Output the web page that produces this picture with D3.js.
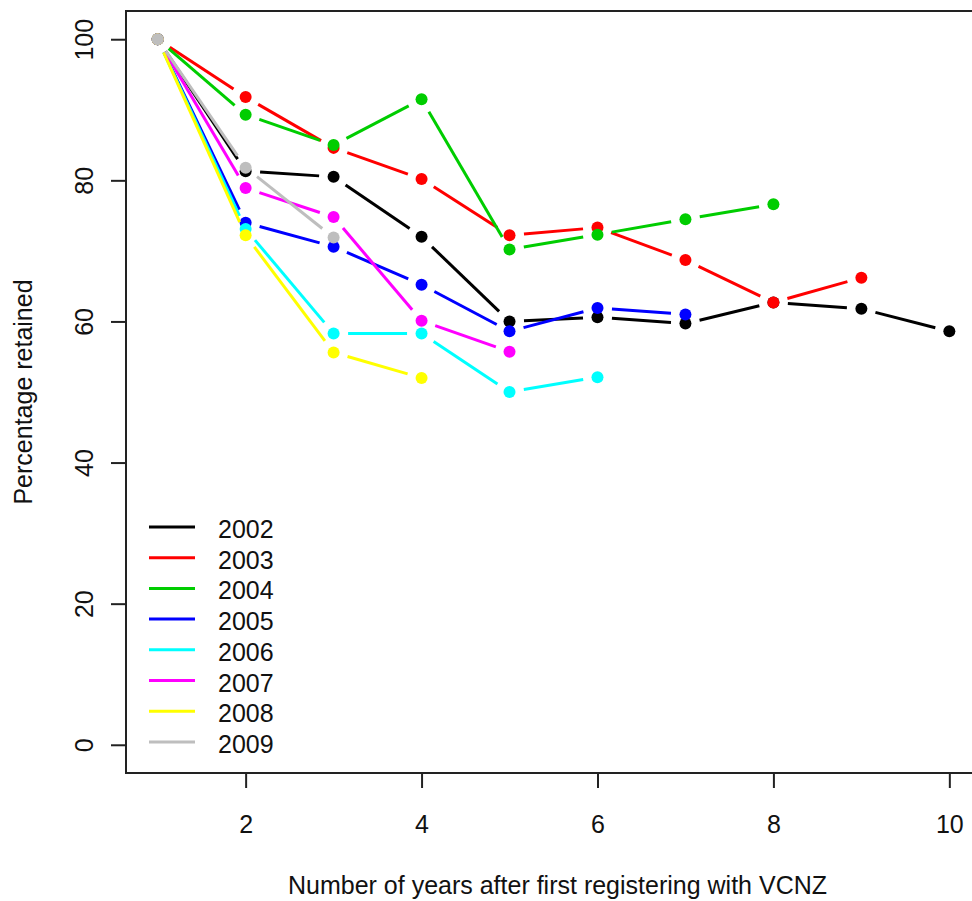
<!DOCTYPE html>
<html>
<head>
<meta charset="utf-8">
<script src="https://cdn.jsdelivr.net/npm/d3@7"></script>
<style>
  body { margin: 0; background: #fff; }
  svg text { font-family: "Liberation Sans", Arial, sans-serif; fill: #111; }
</style>
</head>
<body>
<script>
// data
var years = [1, 2, 3, 4, 5, 6, 7, 8, 9, 10];
var cohorts = ['2002', '2003', '2004', '2005', '2006', '2007', '2008', '2009'];
var colors = ['#000000', '#FF0000', '#00CD00', '#0000FF', '#00FFFF', '#FF00FF', '#FFFF00', '#BEBEBE'];
var v2002 = [100, 81.3, 80.5, 72.0, 60.0, 60.6, 59.7, 62.7, 61.8, 58.6];
var v2003 = [100, 91.8, 84.6, 80.2, 72.2, 73.3, 68.7, 62.7, 66.2];
var v2004 = [100, 89.3, 85.0, 91.5, 70.2, 72.3, 74.5, 76.6];
var v2005 = [100, 74.0, 70.6, 65.2, 58.6, 61.9, 61.0];
var v2006 = [100, 73.1, 58.3, 58.3, 50.0, 52.1];
var v2007 = [100, 78.9, 74.8, 60.1, 55.7];
var v2008 = [100, 72.2, 55.6, 52.0];
var v2009 = [100, 81.8, 71.9];
var xTicks = [2, 4, 6, 8, 10];
var yTicks = [0, 20, 40, 60, 80, 100];
var xTitle = 'Number of years after first registering with VCNZ';
var yTitle = 'Percentage retained';

var allSeries = [v2002, v2003, v2004, v2005, v2006, v2007, v2008, v2009];

var W = 972, H = 901;
var box = {left: 126, top: 11, right: 981, bottom: 773};
var fs = 25;

var svg = d3.select('body').append('svg').attr('width', W).attr('height', H);

var x = d3.scaleLinear().domain([0.64, 10.36]).range([box.left, box.right]);
var y = d3.scaleLinear().domain([-4, 104]).range([box.bottom, box.top]);

// axes
var xAxis = svg.append('g').attr('transform', 'translate(0,' + box.bottom + ')')
  .call(d3.axisBottom(x).tickValues(xTicks).tickSize(15).tickPadding(0).tickFormat(d3.format('d')));
xAxis.select('.domain').remove();
xAxis.selectAll('line').attr('stroke', '#222').attr('stroke-width', 2);
xAxis.selectAll('text').attr('y', 60).attr('dy', null).style('font-size', fs + 'px');

var yAxis = svg.append('g').attr('transform', 'translate(' + box.left + ',0)')
  .call(d3.axisLeft(y).tickValues(yTicks).tickSize(15).tickFormat(d3.format('d')));
yAxis.select('.domain').remove();
yAxis.selectAll('line').attr('stroke', '#222').attr('stroke-width', 2);
yAxis.selectAll('text')
  .attr('x', null).attr('dy', null)
  .attr('text-anchor', 'middle')
  .attr('transform', 'translate(-33,0) rotate(-90)')
  .style('font-size', fs + 'px');

// frame
svg.append('rect')
  .attr('x', box.left).attr('y', box.top)
  .attr('width', box.right - box.left).attr('height', box.bottom - box.top)
  .attr('fill', 'none').attr('stroke', '#222').attr('stroke-width', 2);

// titles
svg.append('text')
  .attr('x', (box.left + box.right) / 2 + 4).attr('y', 894)
  .attr('text-anchor', 'middle').style('font-size', fs + 'px')
  .text(xTitle);
svg.append('text')
  .attr('transform', 'translate(32,' + ((box.top + box.bottom) / 2) + ') rotate(-90)')
  .attr('text-anchor', 'middle').style('font-size', fs + 'px')
  .text(yTitle);

// series: R type="b" (points with gapped segments)
var gap = 14.5;
allSeries.forEach(function (vals, si) {
  var g = svg.append('g');
  var pts = vals.map(function (v, i) { return [x(years[i]), y(v)]; });
  for (var i = 0; i < pts.length - 1; i++) {
    var a = pts[i], b = pts[i + 1];
    var dx = b[0] - a[0], dy = b[1] - a[1];
    var len = Math.sqrt(dx * dx + dy * dy);
    if (len <= 2 * gap) continue;
    var ux = dx / len, uy = dy / len;
    g.append('line')
      .attr('x1', a[0] + ux * gap).attr('y1', a[1] + uy * gap)
      .attr('x2', b[0] - ux * gap).attr('y2', b[1] - uy * gap)
      .attr('stroke', colors[si]).attr('stroke-width', 3);
  }
  g.selectAll('circle')
    .data(pts)
    .enter()
    .append('circle')
    .attr('cx', function (d) { return d[0]; })
    .attr('cy', function (d) { return d[1]; })
    .attr('r', 6)
    .attr('fill', colors[si]);
});

// legend
var leg = svg.append('g');
cohorts.forEach(function (c, i) {
  var ly = 527 + i * 30.7;
  leg.append('line')
    .attr('x1', 149).attr('x2', 195).attr('y1', ly).attr('y2', ly)
    .attr('stroke', colors[i]).attr('stroke-width', 3);
  leg.append('text')
    .attr('x', 218).attr('y', ly + 11)
    .style('font-size', fs + 'px')
    .text(c);
});
</script>
</body>
</html>
